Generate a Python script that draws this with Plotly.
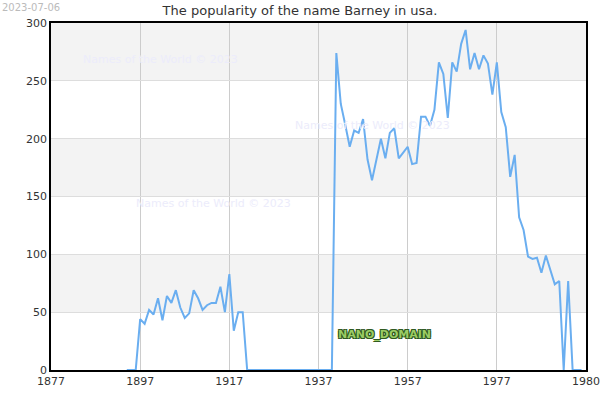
import plotly.graph_objects as go

# Babies named Barney per year (usa)
years = list(range(1894, 1997))
counts = [
    0, 0, 0, 44, 40, 52, 48, 62, 43, 64,            # 1894-1903
    58, 69, 54, 45, 49, 69, 62, 52, 56, 58,         # 1904-1913
    58, 72, 50, 83, 34, 50, 50, 0, 0, 0,            # 1914-1923
    0, 0, 0, 0, 0, 0, 0, 0, 0, 0,                   # 1924-1933
    0, 0, 0, 0, 0, 0, 0, 274, 230, 212,             # 1934-1943
    193, 207, 205, 217, 182, 164, 181, 200, 183, 205,   # 1944-1953
    209, 183, 188, 193, 178, 179, 219, 219, 211, 225,   # 1954-1963
    266, 256, 218, 266, 258, 282, 294, 260, 274, 260,   # 1964-1973
    272, 265, 238, 266, 223, 210, 167, 186, 132, 121,   # 1974-1983
    98, 96, 97, 84, 99, 86, 74, 77, 0, 77,              # 1984-1993
    0, 0, 0,                                            # 1994-1996
]

x_tickvals = [1877, 1897, 1917, 1937, 1957, 1977, 1997]
x_ticktext = ["1877", "1897", "1917", "1937", "1957", "1977", "1980"]
gray_bands = [(50, 100), (150, 200), (250, 300)]

title = "The popularity of the name Barney in usa."
watermark = "Names of the World © 2023"
date_stamp = "2023-07-06"

fig = go.Figure()
fig.add_trace(go.Scatter(
    x=years, y=counts, mode="lines",
    line=dict(color="#6aaef0", width=2),
    hoverinfo="x+y", showlegend=False,
))

# alternating grey bands behind the grid
for lo, hi in gray_bands:
    fig.add_shape(type="rect", xref="paper", yref="y", x0=0, x1=1, y0=lo, y1=hi,
                  fillcolor="#f3f3f3", line_width=0, layer="below")

# page pixel -> paper coords (plot area is x 51..586, y 23..370)
def px(x):
    return (x - 51) / 535

def py(y):
    return (370 - y) / 347

wm_font = dict(family="DejaVu Sans", size=11, color="#ececfb")
for wx, wy in [(160, 60), (372, 125), (213, 203)]:
    fig.add_annotation(text=watermark, x=px(wx), y=py(wy),
                       xanchor="center", yanchor="middle",
                       xref="paper", yref="paper", showarrow=False, font=wm_font)

fig.add_annotation(text=date_stamp, x=px(0), y=py(0), xref="paper", yref="paper",
                   xanchor="left", yanchor="top", showarrow=False,
                   font=dict(family="DejaVu Sans", size=10, color="#bbbbbb"))

fig.add_annotation(text="<b>NANO_DOMAIN</b>", x=px(384), y=py(334),
                   xanchor="center", yanchor="middle",
                   xref="paper", yref="paper", showarrow=False,
                   font=dict(family="DejaVu Sans", size=11, color="#9ccc65",
                             shadow="1px 1px 0 #2f5a1f, -1px -1px 0 #2f5a1f, "
                                    "1px -1px 0 #2f5a1f, -1px 1px 0 #2f5a1f"))

fig.update_layout(
    width=600, height=400,
    margin=dict(l=51, r=14, t=23, b=30, autoexpand=False),
    paper_bgcolor="white", plot_bgcolor="white",
    font=dict(family="DejaVu Sans", size=11, color="#333333"),
    title=dict(text=title, x=0.5, xanchor="center", y=1 - 10 / 400, yanchor="middle",
               font=dict(family="DejaVu Sans", size=13, color="#333333")),
)
fig.update_xaxes(
    range=[1877, 1997], tickvals=x_tickvals, ticktext=x_ticktext,
    showgrid=True, gridcolor="#cccccc", gridwidth=1,
    showline=True, linecolor="black", linewidth=1.5, mirror=True,
    ticks="", zeroline=False, automargin=False,
)
fig.update_yaxes(
    range=[0, 300], dtick=50,
    showgrid=True, gridcolor="#dddddd", gridwidth=1,
    showline=True, linecolor="black", linewidth=1.5, mirror=True,
    ticks="", zeroline=False, automargin=False,
)

# drop the default body margin so the 600x400 figure fills the window
fig.write_html("out.html", config={"displayModeBar": False},
               post_script="document.body.style.margin='0';document.body.style.overflow='hidden';")
